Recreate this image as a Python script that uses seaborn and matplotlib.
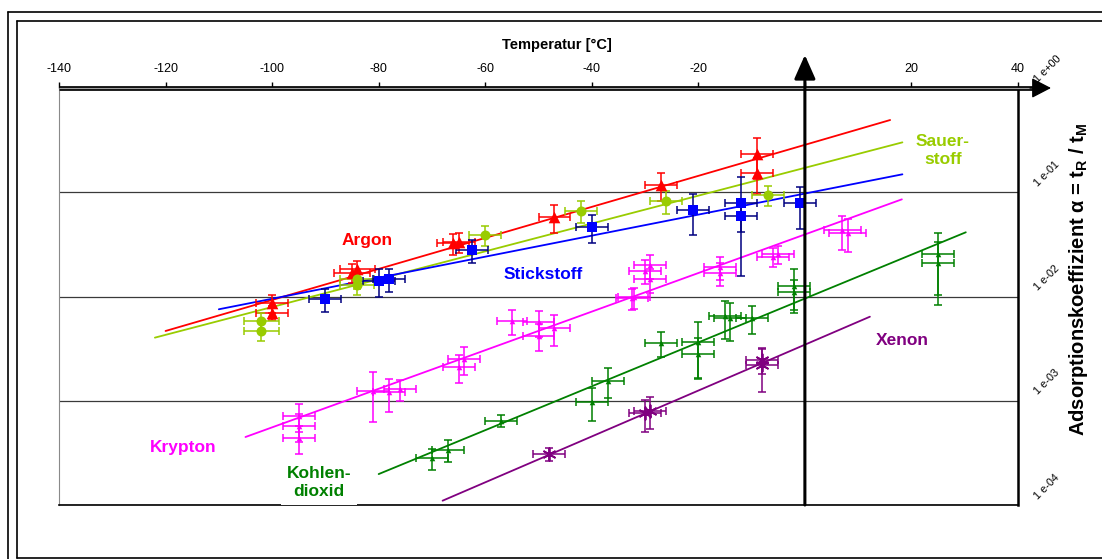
import numpy as np
import matplotlib
matplotlib.use("Agg")
import matplotlib.pyplot as plt
import seaborn as sns
from matplotlib import transforms
from matplotlib.lines import Line2D
from matplotlib.ticker import NullLocator

# ---------------- measured adsorption coefficients ----------------
# temperature [°C], alpha = tR/tM, temperature error [°C], relative alpha error
argon_temp = [-100, -100, -85, -84, -66, -65, -47, -27, -9, -9]
argon_alpha = [0.0087, 0.0070, 0.0169, 0.0182, 0.0324, 0.0335, 0.058, 0.117, 0.231, 0.154]
argon_dt = [3, 3, 3.3, 3.3, 3, 3, 3, 3, 3, 3]
argon_rel = [0.2, 0.15, 0.2, 0.2, 0.22, 0.22, 0.3, 0.3, 0.42, 0.37]

sauer_temp = [-102, -102, -84, -84, -60, -42, -26, -7]
sauer_alpha = [0.0058, 0.0047, 0.0147, 0.0129, 0.0389, 0.066, 0.082, 0.094]
sauer_dt = [3.2, 3.2, 3.2, 3.2, 3, 3, 3, 3]
sauer_rel = [0.2, 0.2, 0.2, 0.2, 0.22, 0.24, 0.24, 0.22]

stick_temp = [-90, -80, -78, -62.5, -40, -21, -12, -12, -1]
stick_alpha = [0.0094, 0.0141, 0.0146, 0.0279, 0.0467, 0.0676, 0.0783, 0.0592, 0.0783]
stick_dt = [3, 3, 3, 3, 3, 3, 3, 3, 3]
stick_rel = [0.25, 0.3, 0.25, 0.25, 0.3, 0.43, 0.8, 0.3, 0.43]

krypton_temp = [-95, -95, -95, -81, -78, -76, -65, -64, -55, -50, -50, -47,
                -32.5, -32, -30, -29, -29, -16, -16, -6, -5, 7, 8]
krypton_alpha = [0.00071, 0.00057, 0.00044, 0.00125, 0.0012, 0.00129, 0.00212, 0.0025,
                 0.00586, 0.00566, 0.00421, 0.00495, 0.0096, 0.0098, 0.0177, 0.0200,
                 0.0147, 0.0193, 0.0169, 0.0241, 0.0254, 0.0434, 0.0409]
krypton_dt = [3, 3, 3, 3, 3, 3, 3, 3, 2.8, 3, 3, 3, 3, 3, 3, 3, 3, 3, 3, 3, 3, 3.5, 3.5]
krypton_rel = [0.3, 0.3, 0.3, 0.5, 0.35, 0.23, 0.3, 0.3, 0.27, 0.28, 0.28, 0.33,
               0.23, 0.23, 0.26, 0.26, 0.26, 0.25, 0.25, 0.2, 0.2, 0.35, 0.35]

co2_temp = [-70, -67, -57, -40, -37, -27, -20, -20, -15, -14, -10, -2, -2, 25, 25]
co2_alpha = [0.00028, 0.000337, 0.000644, 0.00098, 0.00156, 0.0036, 0.00364, 0.00281,
             0.0065, 0.00618, 0.00618, 0.0127, 0.011, 0.0256, 0.0208]
co2_dt = [3, 3, 3, 3, 3, 3, 3, 3, 3, 3, 3, 3, 3, 3, 3]
co2_rel = [0.23, 0.24, 0.13, 0.35, 0.32, 0.27, 0.55, 0.42, 0.4, 0.4, 0.3, 0.45, 0.32, 0.6, 0.6]

xenon_temp = [-48, -30, -29, -8, -8]
xenon_alpha = [0.000308, 0.000758, 0.000803, 0.00246, 0.0022]
xenon_dt = [3, 3, 3, 3, 3]
xenon_rel = [0.15, 0.34, 0.34, 0.27, 0.45]

# exponential trend lines (start / end)
argon_trend_temp = [-120, 16]
argon_trend_alpha = [0.00467, 0.493]
sauer_trend_temp = [-122, 18.3]
sauer_trend_alpha = [0.00403, 0.301]
stick_trend_temp = [-110, 18.3]
stick_trend_alpha = [0.00754, 0.1486]
krypton_trend_temp = [-105, 18.2]
krypton_trend_alpha = [0.000449, 0.0855]
co2_trend_temp = [-80, 30.2]
co2_trend_alpha = [0.000198, 0.0413]
xenon_trend_temp = [-68, 12.2]
xenon_trend_alpha = [0.000110, 0.0064]

x_ticks = [-140, -120, -100, -80, -60, -40, -20, 0, 20, 40]
x_tick_labels = ["-140", "-120", "-100", "-80", "-60", "-40", "-20", "", "20", "40"]
y_ticks = [1e-4, 1e-3, 1e-2, 1e-1, 1e0]
y_tick_labels = ["1 e-04", "1 e-03", "1 e-02", "1 e-01", "1 e+00"]

# ---------------- style ----------------
sns.set_theme(style="white")
plt.rcParams["font.family"] = ["Liberation Sans", "DejaVu Sans"]
plt.rcParams["mathtext.fontset"] = "custom"
plt.rcParams["mathtext.rm"] = "Liberation Sans:bold"
plt.rcParams["mathtext.it"] = "Liberation Sans:bold"
plt.rcParams["mathtext.bf"] = "Liberation Sans:bold"

W, H = 1102, 559
fig = plt.figure(figsize=(W / 100, H / 100), dpi=100)
fig.patch.set_facecolor("white")
L, R, T, B = 59, 1018, 88, 505
ax = fig.add_axes([L / W, 1 - B / H, (R - L) / W, (B - T) / H])
ax.set_facecolor("white")
ax.set_yscale("log")

series = [
    dict(temp=argon_temp, alpha=argon_alpha, dt=argon_dt, rel=argon_rel,
         tt=argon_trend_temp, ta=argon_trend_alpha,
         color="#FF0000", ecolor="#FF0000", marker="^", s=70, lw=0),
    dict(temp=sauer_temp, alpha=sauer_alpha, dt=sauer_dt, rel=sauer_rel,
         tt=sauer_trend_temp, ta=sauer_trend_alpha,
         color="#99CC00", ecolor="#99CC00", marker="o", s=52, lw=0),
    dict(temp=stick_temp, alpha=stick_alpha, dt=stick_dt, rel=stick_rel,
         tt=stick_trend_temp, ta=stick_trend_alpha,
         color="#0000FF", ecolor="#000080", marker="s", s=52, lw=0),
    dict(temp=krypton_temp, alpha=krypton_alpha, dt=krypton_dt, rel=krypton_rel,
         tt=krypton_trend_temp, ta=krypton_trend_alpha,
         color="#FF00FF", ecolor="#FF00FF", marker="^", s=16, lw=0),
    dict(temp=co2_temp, alpha=co2_alpha, dt=co2_dt, rel=co2_rel,
         tt=co2_trend_temp, ta=co2_trend_alpha,
         color="#008000", ecolor="#008000", marker="^", s=16, lw=0),
    dict(temp=xenon_temp, alpha=xenon_alpha, dt=xenon_dt, rel=xenon_rel,
         tt=xenon_trend_temp, ta=xenon_trend_alpha,
         color="#800080", ecolor="#800080", marker=(6, 2, 0), s=80, lw=1.3),
]

for sp in series:
    a = np.asarray(sp["alpha"], dtype=float)
    r = np.asarray(sp["rel"], dtype=float)
    sns.lineplot(x=sp["tt"], y=sp["ta"], color=sp["color"], lw=1.3, ax=ax, zorder=2)
    ax.errorbar(sp["temp"], a, xerr=sp["dt"], yerr=[a * r, a * r], fmt="none",
                ecolor=sp["ecolor"], elinewidth=1.1, capsize=3, capthick=1.1, zorder=3)
    sns.scatterplot(x=sp["temp"], y=a, marker=sp["marker"], s=sp["s"],
                    color=sp["color"], edgecolor=sp["color"], linewidth=sp["lw"],
                    ax=ax, zorder=4, legend=False)

ax.set_xlim(-140, 40)
ax.set_ylim(1e-4, 1)
ax.set_xlabel("")
ax.set_ylabel("")

# x axis on top
ax.xaxis.tick_top()
ax.set_xticks(x_ticks)
ax.set_xticklabels(x_tick_labels)
ax.tick_params(axis="x", which="major", direction="out", length=4, width=1,
               color="black", pad=5, labelsize=9, top=True, bottom=False,
               labeltop=True, labelbottom=False, labelcolor="black")

# y axis: grid only, labels drawn rotated on the right
ax.yaxis.set_minor_locator(NullLocator())
ax.tick_params(axis="y", which="both", left=False, right=False,
               labelleft=False, labelright=False)
ax.grid(False, axis="x")
ax.grid(True, axis="y", which="major", color="#3a3a3a", lw=0.9)

ax.spines["top"].set_visible(False)
ax.spines["left"].set_color("#8a8a8a")
ax.spines["left"].set_linewidth(0.8)
ax.spines["right"].set_color("black")
ax.spines["right"].set_linewidth(1.8)
ax.spines["bottom"].set_color("black")
ax.spines["bottom"].set_linewidth(1.2)

ytrans = transforms.blended_transform_factory(ax.transAxes, ax.transData)
yoff = transforms.ScaledTranslation(0.21, 0.04, fig.dpi_scale_trans)
for v, lab in zip(y_ticks, y_tick_labels):
    ax.text(1.0, v, lab, transform=ytrans + yoff, rotation=45, rotation_mode="anchor",
            ha="left", va="bottom", fontsize=7.8, color="black", clip_on=False)

# double-line temperature axis with arrow head
ax.plot([0, 1.0178], [1, 1], transform=ax.transAxes, clip_on=False, color="black",
        lw=3.4, solid_capstyle="butt", zorder=6)
ax.plot([0, 1.0178], [1, 1], transform=ax.transAxes, clip_on=False, color="#a0a0a0",
        lw=0.9, solid_capstyle="butt", zorder=7)
ax.annotate("", xy=(1051, H - T), xycoords="figure pixels",
            xytext=(1030, H - T), textcoords="figure pixels",
            arrowprops=dict(arrowstyle="-|>,head_length=1.0,head_width=0.52",
                            color="black", lw=1.0, shrinkA=0, shrinkB=0),
            annotation_clip=False, zorder=8)

# vertical arrow at 0 °C
ax.annotate("", xy=(0, H - 55), xycoords=("data", "figure pixels"),
            xytext=(0, 1e-4), textcoords="data",
            arrowprops=dict(arrowstyle="-|>,head_length=1.22,head_width=0.54",
                            color="black", lw=2.2, shrinkA=0, shrinkB=0),
            annotation_clip=False, zorder=8)

# axis titles
fig.text(557 / W, 1 - 45 / H, "Temperatur [°C]", ha="center", va="center",
         fontsize=10.5, fontweight="bold", color="black")
fig.text(1079 / W, 1 - 279 / H, r"Adsorptionskoeffizient α = t$_{R}$ / t$_{M}$",
         ha="center", va="center", rotation=90, fontsize=14.5, fontweight="bold",
         color="black")

# gas names
label_kw = dict(fontsize=12.5, fontweight="bold", ha="center", va="center")
ax.text(-82.2, 0.0348, "Argon", color="#FF0000", **label_kw)
ax.text(-49.2, 0.0161, "Stickstoff", color="#0000FF", **label_kw)
ax.text(25.9, 0.2515, "Sauer-\nstoff", color="#99CC00", linespacing=1.25, **label_kw)
ax.text(-116.7, 0.00036, "Krypton", color="#FF00FF", **label_kw)
ax.text(-91.2, 0.0001626, "Kohlen-\ndioxid", color="#008000", linespacing=1.25,
        bbox=dict(facecolor="white", edgecolor="none", pad=4), clip_on=False,
        zorder=10, **label_kw)
ax.text(18.2, 0.00377, "Xenon", color="#800080", **label_kw)

# surrounding double frame
frame_kw = dict(transform=None, color="black", lw=1.2)
for xs, ys in [([8, 8], [H - 12, 0]), ([8, W + 5], [H - 12, H - 12]),
               ([16.5, 16.5], [H - 21, H - 558]), ([16.5, W + 5], [H - 21, H - 21]),
               ([16.5, W + 5], [H - 558, H - 558])]:
    fig.add_artist(Line2D(xs, ys, **frame_kw))

fig.savefig("out.png", dpi=100, facecolor="white")
